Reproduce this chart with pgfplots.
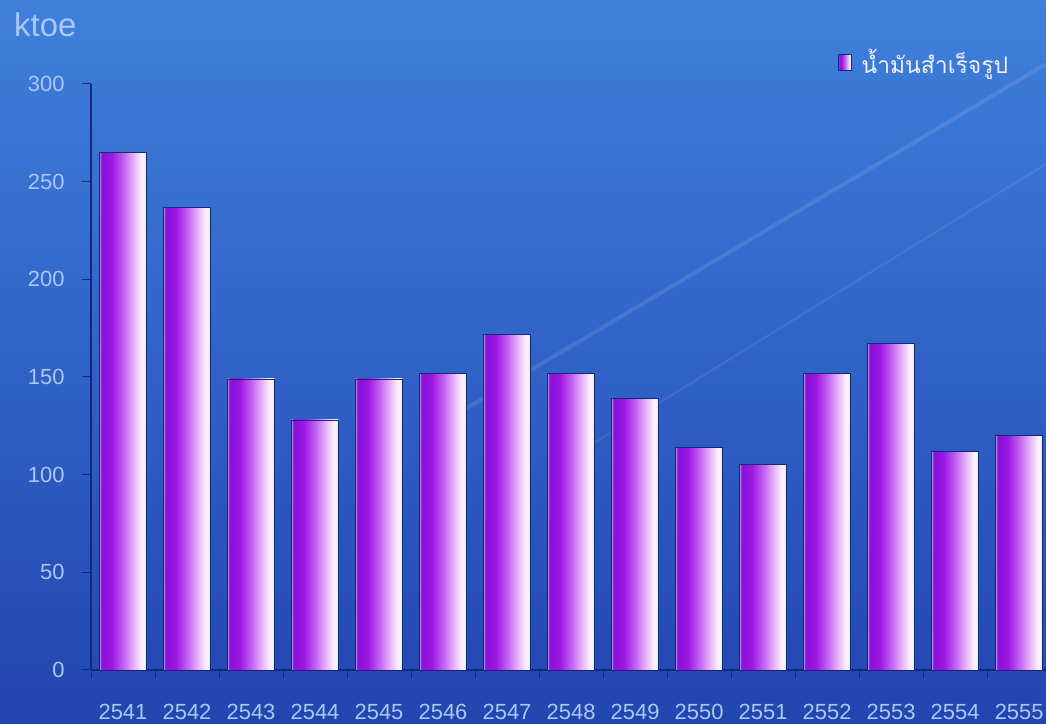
\documentclass[border=0pt]{standalone}
\usepackage{pgfplots}
\pgfplotsset{compat=1.18}
\usepackage{fontspec}
\setmainfont{Liberation Sans}
\newfontfamily\thaifont[Script=Thai]{Loma}
\definecolor{bgTop}{HTML}{3F80DC}
\definecolor{bgBot}{HTML}{2245B0}
\definecolor{tickC}{HTML}{AAC8F5}
\definecolor{axisC}{HTML}{14287A}
\definecolor{legC}{HTML}{F0F0FF}
\definecolor{barL}{HTML}{B898F0}
\definecolor{barP}{HTML}{8A10D8}
\definecolor{barP2}{HTML}{9A18E0}
\definecolor{barM}{HTML}{C060F0}
\definecolor{barPk}{HTML}{E8B8F4}
\definecolor{barW}{HTML}{F8F0FF}
\definecolor{barW2}{HTML}{F0F4FF}
\definecolor{barE}{HTML}{B8CCF8}
\pgfdeclarehorizontalshading{barshade}{100bp}{color(0bp)=(barL); color(25bp)=(barL); color(27bp)=(barP); color(38bp)=(barP2); color(50bp)=(barM); color(62bp)=(barPk); color(70bp)=(barW); color(73bp)=(barW2); color(75bp)=(barE); color(100bp)=(barE)}
\pgfplotsset{barsty/.style={draw=axisC, line width=0.8bp, shading=barshade, shade, bar shift=0pt}}
\begin{document}
\begin{tikzpicture}[x=1bp,y=1bp]
\useasboundingbox (0,0) rectangle (1046,724);
\shade[top color=bgTop, bottom color=bgBot] (0,0) rectangle (1046,724);
\draw[white, opacity=0.10, line width=4bp] (440,300) -- (1046,660);
\draw[white, opacity=0.08, line width=2bp] (560,260) -- (1046,560);
\node[anchor=west, text=tickC, font=\fontsize{33}{35}\selectfont, inner sep=0pt] at (14,699) {ktoe};
\begin{axis}[
  at={(91bp,54bp)}, anchor=south west,
  scale only axis, width=955bp, height=586bp,
  xmin=-0.5, xmax=14.42, ymin=0, ymax=300,
  axis lines*=left,
  axis line style={draw=axisC, line width=1.2bp},
  xtick={0,...,14},
  xticklabels={2541,2542,2543,2544,2545,2546,2547,2548,2549,2550,2551,2552,2553,2554,2555},
  minor xtick={-0.5,0.5,...,13.5},
  major x tick style={draw=none},
  ytick={0,50,...,300},
  tick align=outside,
  major tick length=9bp, minor tick length=8bp,
  tick style={draw=axisC, line width=1bp},
  /pgf/number format/assume math mode=true,
  ticklabel style={font=\fontsize{22}{24}\selectfont, text=tickC},
  xticklabel style={yshift=-22bp},
  yticklabel style={xshift=-14bp},
  ybar, bar width=47bp,
  legend style={draw=none, fill=none, at={(axis description cs:0.782,1.0375)}, anchor=west,
    font=\thaifont\fontsize{23}{25}\selectfont, text=legC, inner sep=0pt},
  legend cell align=left,
  legend image code/.code={\shade[shading=barshade, draw=axisC, line width=0.6bp] (0bp,-8bp) rectangle (13bp,8bp);},
]
\addplot[barsty] coordinates {(0,265)};
\addlegendentry{\hspace*{8bp}น้ำมันสำเร็จรูป}
\addplot[barsty, forget plot] coordinates {(1,237)};
\addplot[barsty, forget plot] coordinates {(2,149)};
\addplot[barsty, forget plot] coordinates {(3,128)};
\addplot[barsty, forget plot] coordinates {(4,149)};
\addplot[barsty, forget plot] coordinates {(5,152)};
\addplot[barsty, forget plot] coordinates {(6,172)};
\addplot[barsty, forget plot] coordinates {(7,152)};
\addplot[barsty, forget plot] coordinates {(8,139)};
\addplot[barsty, forget plot] coordinates {(9,114)};
\addplot[barsty, forget plot] coordinates {(10,105)};
\addplot[barsty, forget plot] coordinates {(11,152)};
\addplot[barsty, forget plot] coordinates {(12,167)};
\addplot[barsty, forget plot] coordinates {(13,112)};
\addplot[barsty, forget plot] coordinates {(14,120)};
\end{axis}
\end{tikzpicture}
\end{document}
